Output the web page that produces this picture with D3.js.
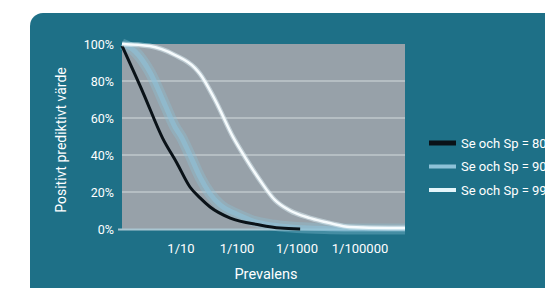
<!DOCTYPE html>
<html>
<head>
<meta charset="utf-8">
<script src="https://cdn.jsdelivr.net/npm/d3@7"></script>
<style>
  body { margin: 0; background: #fff; overflow: hidden; }
  text { font-family: Roboto, "Liberation Sans", sans-serif; fill: #fff; }
</style>
</head>
<body>
<div id="container"></div>
<script>
const width = 545,
  height = 288;

// x values are positions along the prevalence axis (1 = 1/10, 2 = 1/100, 3 = 1/1000, 4 = 1/100000)
const xTicks = [1, 2, 3, 4];
const xTickLabels = ["1/10", "1/100", "1/1000", "1/100000"];
const yTicks = [0, 20, 40, 60, 80, 100];

const black80 = [
  [0, 99], [0.36, 73.5], [0.69, 49], [0.93, 35.7], [1.16, 22.7], [1.34, 16.8],
  [1.52, 11.9], [1.88, 5.9], [2.38, 2.2], [2.72, 0.5], [3.05, 0]
];
const blue90 = [
  [0, 100], [0.22, 96], [0.47, 85], [0.73, 67], [0.9, 55], [1, 50], [1.16, 40],
  [1.34, 28], [1.52, 19], [1.7, 13], [2, 8], [2.3, 4], [2.63, 2], [3, 0.8],
  [3.52, 0.2], [4, 0], [4.7, 0]
];
const white99 = [
  [0, 100], [0.47, 98.9], [0.9, 94], [1.25, 87], [1.34, 83.8], [1.61, 69.7],
  [1.93, 49.7], [2.13, 39], [2.38, 26.5], [2.63, 15.7], [2.88, 10], [3.21, 5.9],
  [3.52, 3.2], [3.84, 1.1], [4.44, 0.5], [4.7, 0.5]
];

const seriesNames = ["Se och Sp = 80%", "Se och Sp = 90%", "Se och Sp = 99%"];

const svg = d3.select("#container").append("svg")
  .attr("width", width)
  .attr("height", height)

// teal panel
svg.append("rect")
  .attr("x", 30).attr("y", 13)
  .attr("width", 560).attr("height", 320)
  .attr("rx", 13)
  .attr("fill", "#1e7087")

/* SCALES */
const xScale = d3.scaleLinear()
  .domain([0, 1, 2, 3, 4, 4.7])
  .range([122, 181, 237, 297, 360, 405])

const yScale = d3.scaleLinear()
  .domain([0, 100])
  .range([229, 44])

// plot background
svg.append("rect")
  .attr("x", xScale(0))
  .attr("y", yScale(100))
  .attr("width", xScale(4.7) - xScale(0))
  .attr("height", yScale(0) - yScale(100))
  .attr("fill", "#97a1a9")

// gridlines
svg.selectAll("line.grid")
  .data(yTicks.filter(d => d > 0 && d < 100))
  .join("line")
  .attr("class", "grid")
  .attr("x1", xScale(0))
  .attr("x2", xScale(4.7))
  .attr("y1", d => yScale(d))
  .attr("y2", d => yScale(d))
  .attr("stroke", "#bfc8cd")
  .attr("stroke-width", 1.5)

// bottom axis line
svg.append("line")
  .attr("x1", xScale(0) - 4)
  .attr("x2", xScale(4.7))
  .attr("y1", yScale(0) + 0.5)
  .attr("y2", yScale(0) + 0.5)
  .attr("stroke", "#a9c6d2")
  .attr("stroke-width", 2)

/* LINES */
const line = d3.line()
  .x(d => xScale(d[0]))
  .y(d => yScale(d[1]))
  .curve(d3.curveMonotoneX)

svg.append("path")
  .datum(blue90)
  .attr("d", line)
  .attr("fill", "none")
  .attr("stroke", "#8dc2d8")
  .attr("stroke-opacity", 0.35)
  .attr("stroke-width", 11)

svg.append("path")
  .datum(blue90)
  .attr("d", line)
  .attr("fill", "none")
  .attr("stroke", "#8dc2d8")
  .attr("stroke-opacity", 0.6)
  .attr("stroke-width", 5)

svg.append("path")
  .datum(black80)
  .attr("d", line)
  .attr("fill", "none")
  .attr("stroke", "#0a1218")
  .attr("stroke-width", 3)

svg.append("path")
  .datum(white99)
  .attr("d", line)
  .attr("fill", "none")
  .attr("stroke", "#dff1f7")
  .attr("stroke-opacity", 0.5)
  .attr("stroke-width", 5)

svg.append("path")
  .datum(white99)
  .attr("d", line)
  .attr("fill", "none")
  .attr("stroke", "#f6fbfd")
  .attr("stroke-width", 2.5)

/* AXES LABELS */
svg.selectAll("text.ytick")
  .data(yTicks)
  .join("text")
  .attr("class", "ytick")
  .attr("x", 114)
  .attr("y", d => yScale(d) + 4.5)
  .attr("text-anchor", "end")
  .style("font-size", "12.5px")
  .text(d => d + "%")

svg.selectAll("text.xtick")
  .data(xTicks)
  .join("text")
  .attr("class", "xtick")
  .attr("x", d => xScale(d))
  .attr("y", 253)
  .attr("text-anchor", "middle")
  .style("font-size", "13px")
  .text((d, i) => xTickLabels[i])

svg.append("text")
  .attr("text-anchor", "middle")
  .style("font-size", "14.5px")
  .attr("x", 266)
  .attr("y", 279)
  .text("Prevalens")

svg.append("text")
  .attr("text-anchor", "middle")
  .attr("transform", "translate(66,140) rotate(-90)")
  .style("font-size", "14px")
  .text("Positivt prediktivt värde")

/* LEGEND */
const legendColors = ["#0a1218", "#8dc2d8", "#e4f5fa"];
const legendHeights = [5, 4, 4];
const legend = svg.selectAll("g.legend")
  .data(seriesNames)
  .join("g")
  .attr("class", "legend")
  .attr("transform", (d, i) => `translate(429, ${143 + i * 23.5})`)

legend.append("rect")
  .attr("x", 0)
  .attr("y", (d, i) => -legendHeights[i] / 2)
  .attr("width", 27)
  .attr("height", (d, i) => legendHeights[i])
  .attr("fill", (d, i) => legendColors[i])

legend.append("text")
  .attr("x", 32)
  .attr("y", 4.5)
  .style("font-size", "13px")
  .text(d => d)
</script>
</body>
</html>
